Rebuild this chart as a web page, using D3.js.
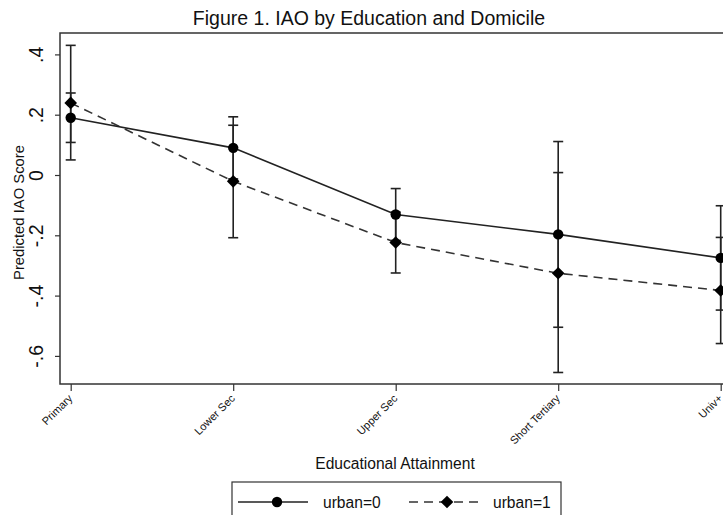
<!DOCTYPE html>
<html>
<head>
<meta charset="utf-8">
<script src="https://cdn.jsdelivr.net/npm/d3@7"></script>
<style>
  html, body { margin: 0; padding: 0; background: #fff; }
  svg { display: block; font-family: "Liberation Sans", Arial, sans-serif; }
</style>
</head>
<body>
<svg id="chart" width="723" height="515"></svg>
<script>
const categories = ["Primary", "Lower Sec", "Upper Sec", "Short Tertiary", "Univ+"];
const urban0 = [0.190, 0.090, -0.131, -0.197, -0.275];
const urban0Lo = [0.108, -0.013, -0.217, -0.505, -0.448];
const urban0Hi = [0.272, 0.193, -0.045, 0.111, -0.102];
const urban1 = [0.239, -0.021, -0.224, -0.326, -0.383];
const urban1Lo = [0.050, -0.208, -0.325, -0.655, -0.559];
const urban1Hi = [0.430, 0.165, -0.123, 0.008, -0.207];
const yTicks = [0.4, 0.2, 0, -0.2, -0.4, -0.6];
const yTickLabels = [".4", ".2", "0", "-.2", "-.4", "-.6"];

const svg = d3.select("#chart");
const W = 723, H = 515;
const plot = { left: 60, top: 33, right: 735, bottom: 384 };

const x = d3.scalePoint().domain(categories).range([70.7, 720.7]);
const y = d3.scaleLinear().domain([-0.6, 0.4]).range([355.9, 54.4]);

// Title
svg.append("text").attr("x", 369).attr("y", 24.5).attr("text-anchor", "middle")
  .attr("font-size", 19.5).attr("fill", "#111").text("Figure 1. IAO by Education and Domicile");

// Plot box
svg.append("rect").attr("x", plot.left).attr("y", plot.top)
  .attr("width", plot.right - plot.left).attr("height", plot.bottom - plot.top)
  .attr("fill", "none").attr("stroke", "#333").attr("stroke-width", 1.5);

// Y axis
const yAxis = d3.axisLeft(y).tickValues(yTicks).tickSize(5)
  .tickFormat((d, i) => yTickLabels[i]);
const yg = svg.append("g").attr("transform", `translate(${plot.left},0)`).call(yAxis);
yg.select(".domain").remove();
yg.selectAll(".tick line").attr("stroke", "#333").attr("stroke-width", 1.2);
yg.selectAll(".tick text").attr("font-size", 19.5).attr("fill", "#111")
  .attr("x", 0).attr("y", 0).attr("dy", "0").attr("text-anchor", "middle")
  .attr("transform", "translate(-17,0) rotate(-90)");

svg.append("text").attr("transform", "translate(23.5,212.5) rotate(-90)")
  .attr("text-anchor", "middle").attr("font-size", 14.8).attr("fill", "#111")
  .text("Predicted IAO Score");

// X axis
const xAxis = d3.axisBottom(x).tickSize(7).tickPadding(2);
const xg = svg.append("g").attr("transform", `translate(0,${plot.bottom})`).call(xAxis);
xg.select(".domain").remove();
xg.selectAll(".tick line").attr("stroke", "#333").attr("stroke-width", 1.2);
xg.selectAll(".tick text").attr("font-size", 11).attr("fill", "#111")
  .attr("text-anchor", "end").attr("dy", "0").attr("x", 0).attr("y", 0)
  .attr("transform", "translate(2,15) rotate(-45)");

svg.append("text").attr("x", 395).attr("y", 469).attr("text-anchor", "middle")
  .attr("font-size", 15.6).attr("fill", "#111").text("Educational Attainment");

// Clip area for marks
svg.append("clipPath").attr("id", "clip").append("rect")
  .attr("x", 0).attr("y", 0).attr("width", W).attr("height", H);
const g = svg.append("g").attr("clip-path", "url(#clip)");

const line = d3.line().x((d, i) => x(categories[i])).y(d => y(d));

function errorBars(lo, hi) {
  const eg = g.append("g").attr("stroke", "#222").attr("stroke-width", 1.6);
  categories.forEach((c, i) => {
    eg.append("line").attr("x1", x(c)).attr("x2", x(c)).attr("y1", y(lo[i])).attr("y2", y(hi[i]));
    [lo[i], hi[i]].forEach(v => {
      eg.append("line").attr("x1", x(c) - 5).attr("x2", x(c) + 5).attr("y1", y(v)).attr("y2", y(v));
    });
  });
}
errorBars(urban0Lo, urban0Hi);
errorBars(urban1Lo, urban1Hi);

g.append("path").datum(urban1).attr("d", line).attr("fill", "none")
  .attr("stroke", "#333").attr("stroke-width", 1.6).attr("stroke-dasharray", "9,6");
g.append("path").datum(urban0).attr("d", line).attr("fill", "none")
  .attr("stroke", "#222").attr("stroke-width", 1.6);

g.selectAll(".m1").data(urban1).enter().append("path")
  .attr("d", d3.symbol().type(d3.symbolSquare).size(80))
  .attr("transform", (d, i) => `translate(${x(categories[i])},${y(d)}) rotate(45)`)
  .attr("fill", "#000");
g.selectAll(".m0").data(urban0).enter().append("circle")
  .attr("cx", (d, i) => x(categories[i])).attr("cy", d => y(d)).attr("r", 5.2)
  .attr("fill", "#000");

// Legend
const lg = svg.append("g");
lg.append("rect").attr("x", 232).attr("y", 482).attr("width", 329).attr("height", 50)
  .attr("fill", "#fff").attr("stroke", "#333").attr("stroke-width", 1.2);
const ly = 502;
lg.append("line").attr("x1", 238).attr("x2", 308).attr("y1", ly).attr("y2", ly)
  .attr("stroke", "#222").attr("stroke-width", 1.6);
lg.append("circle").attr("cx", 277).attr("cy", ly).attr("r", 5.2).attr("fill", "#000");
lg.append("text").attr("x", 323).attr("y", ly + 5.5).attr("font-size", 15.6).attr("fill", "#111").text("urban=0");
lg.append("line").attr("x1", 409).attr("x2", 483).attr("y1", ly).attr("y2", ly)
  .attr("stroke", "#333").attr("stroke-width", 1.6).attr("stroke-dasharray", "9,6");
lg.append("path").attr("d", d3.symbol().type(d3.symbolSquare).size(80))
  .attr("transform", `translate(447,${ly}) rotate(45)`).attr("fill", "#000");
lg.append("text").attr("x", 493).attr("y", ly + 5.5).attr("font-size", 15.6).attr("fill", "#111").text("urban=1");
</script>
</body>
</html>
